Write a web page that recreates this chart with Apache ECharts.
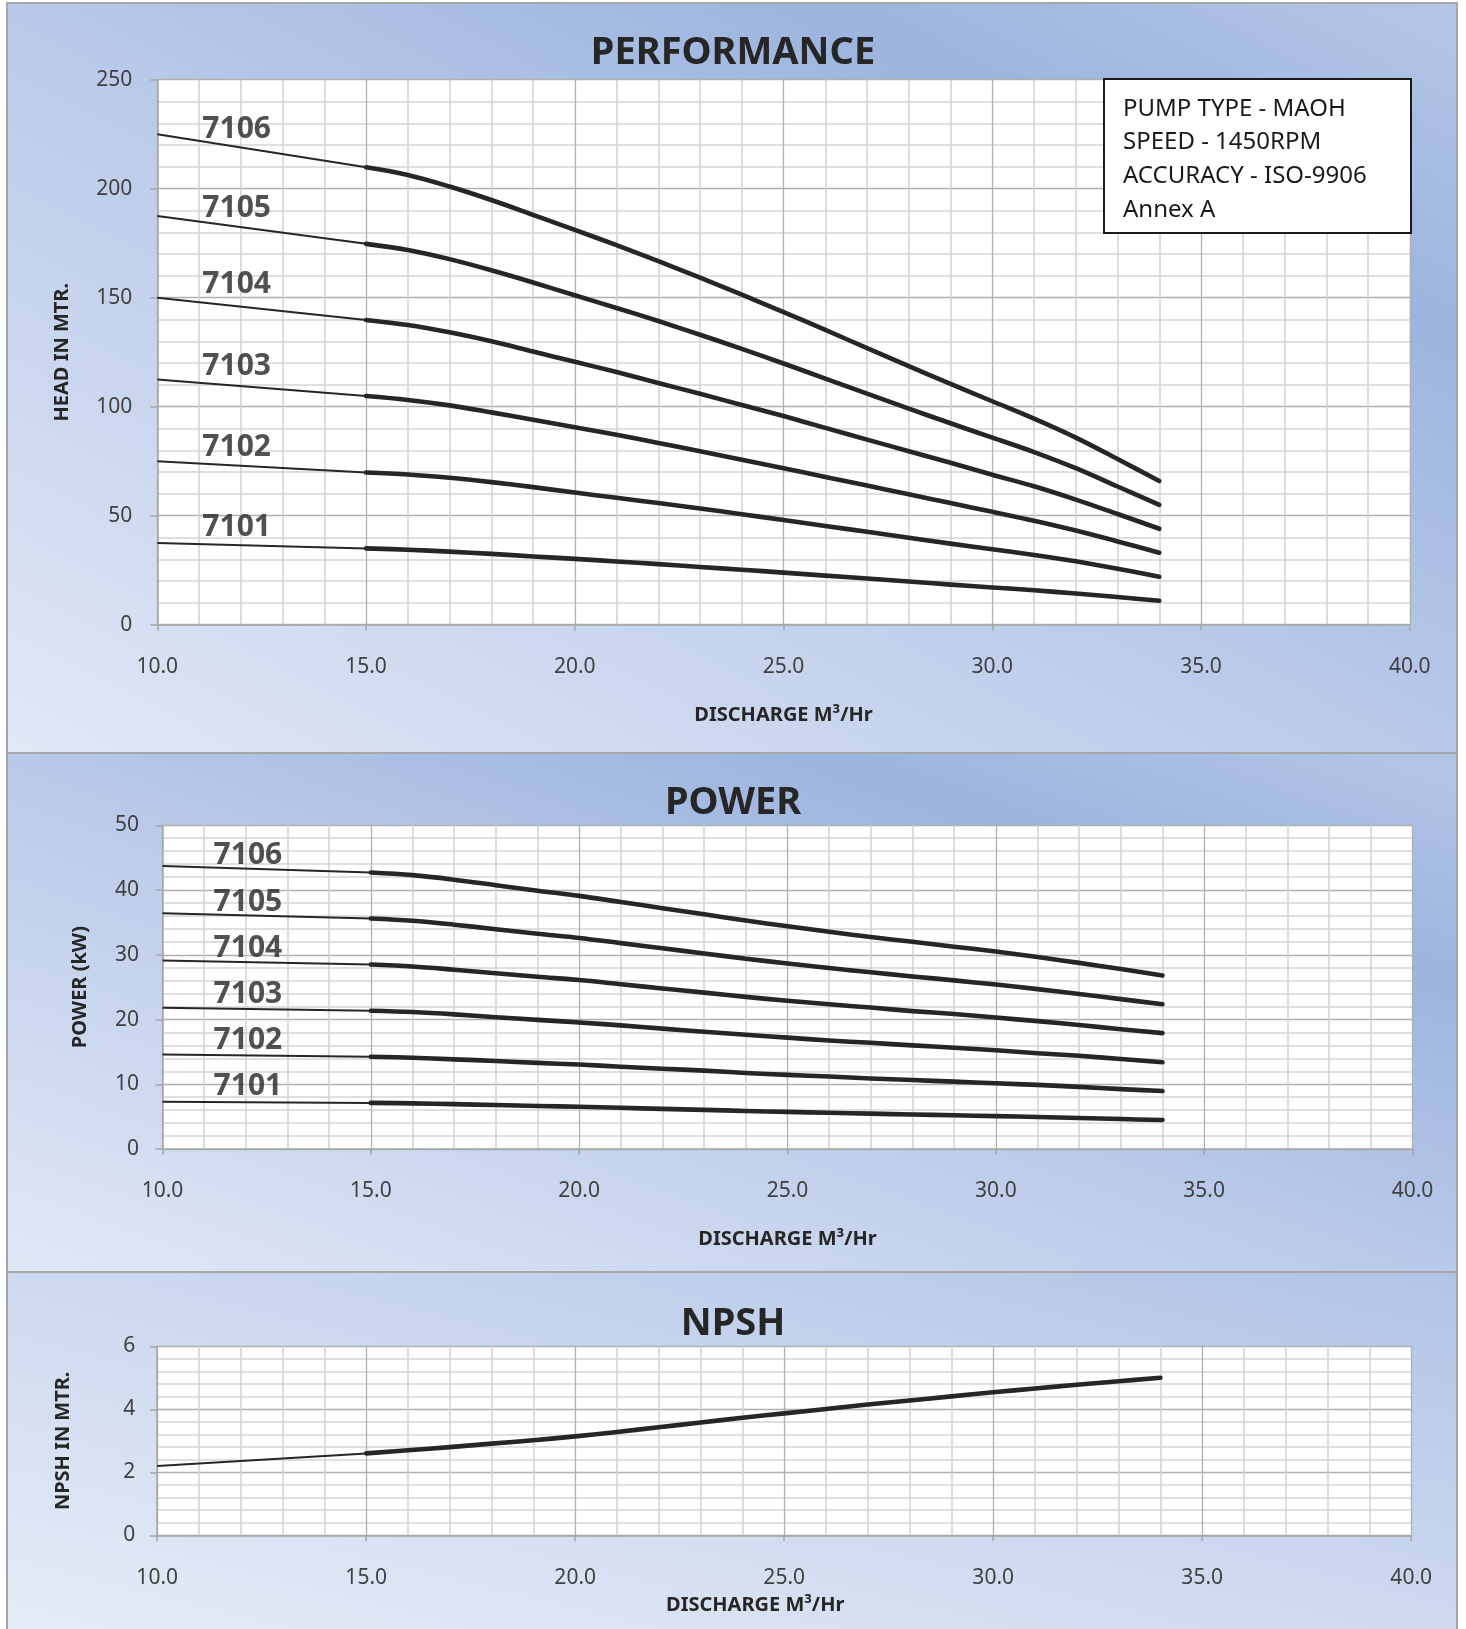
<!DOCTYPE html>
<html>
<head>
<meta charset="utf-8">
<script src="https://cdn.jsdelivr.net/npm/echarts@6/dist/echarts.min.js"></script>
<style>
html,body{margin:0;padding:0;width:1466px;height:1629px;overflow:hidden;background:#ffffff;}
.panel{position:absolute;left:6px;width:1452px;box-sizing:border-box;border:2px solid #a6a6a6;}
#p1{top:2px;height:752px;background:linear-gradient(to top right,#e1e8f6 0%,#b8c9e9 50%,#9cb4de 78%,#b4c6e7 100%);}
#p2{top:752px;height:521px;background:linear-gradient(to top right,#e1e8f6 0%,#b8c9e9 50%,#9cb4de 78%,#b4c6e7 100%);}
#p3{top:1271px;height:362px;background:linear-gradient(to top right,#e5ecf7 0%,#cdd9ef 50%,#b9cae9 85%,#b2c4e6 100%);}
#chart{position:absolute;left:0;top:0;width:1466px;height:1629px;}
</style>
</head>
<body>
<div class="panel" id="p1"></div>
<div class="panel" id="p2"></div>
<div class="panel" id="p3"></div>
<div id="chart"></div>
<script>
// ---------- data ----------
const models = ['7101', '7102', '7103', '7104', '7105', '7106'];
const flowStart = 10;
const flowMain = [15, 16, 17, 18, 19, 20, 21, 22, 23, 24, 25, 26, 27, 28, 29, 30, 31, 32, 33, 34];
const xTicks = [10, 15, 20, 25, 30, 35, 40];

// Head (m): value at 10 m3/h, then values along flowMain
const headStart = [37.5, 75, 112.5, 150, 187.5, 225];
const head7101 = [35.0, 34.4, 33.5, 32.5, 31.3, 30.2, 29.0, 27.8, 26.5, 25.2, 23.9, 22.5, 21.2, 19.8, 18.4, 17.1, 15.8, 14.3, 12.7, 11.0];
const head7102 = [69.8, 68.9, 67.4, 65.4, 63.1, 60.6, 58.2, 55.8, 53.3, 50.7, 48.0, 45.3, 42.6, 39.9, 37.2, 34.6, 32.0, 29.1, 25.7, 22.0];
const head7103 = [104.9, 103.1, 100.6, 97.4, 94.0, 90.6, 87.1, 83.4, 79.6, 75.7, 71.8, 67.8, 63.8, 59.8, 55.8, 51.8, 47.7, 43.2, 38.2, 33.0];
const head7104 = [139.8, 137.5, 134.1, 130.0, 125.3, 120.6, 115.9, 110.9, 105.9, 100.8, 95.7, 90.3, 84.9, 79.6, 74.3, 68.8, 63.5, 57.4, 50.8, 44.0];
const head7105 = [174.7, 171.9, 167.7, 162.6, 157.0, 151.1, 145.3, 139.3, 133.0, 126.5, 119.8, 112.9, 106.0, 99.1, 92.4, 85.8, 79.2, 71.8, 63.4, 55.0];
const head7106 = [209.8, 206.3, 201.0, 194.8, 188.0, 181.1, 174.1, 166.8, 159.2, 151.4, 143.4, 135.2, 126.9, 118.6, 110.5, 102.5, 94.5, 85.8, 76.0, 65.9];

// Power (kW)
const powerStart = [7.3, 14.6, 21.8, 29.1, 36.4, 43.7];
const power7101 = [7.12, 7.05, 6.93, 6.79, 6.65, 6.52, 6.36, 6.2, 6.04, 5.88, 5.73, 5.59, 5.46, 5.33, 5.21, 5.08, 4.94, 4.79, 4.63, 4.47];
const power7102 = [14.25, 14.1, 13.85, 13.6, 13.3, 13.05, 12.7, 12.4, 12.1, 11.75, 11.45, 11.2, 10.9, 10.65, 10.4, 10.15, 9.9, 9.6, 9.25, 8.95];
const power7103 = [21.35, 21.15, 20.8, 20.35, 19.95, 19.55, 19.1, 18.6, 18.1, 17.65, 17.2, 16.75, 16.4, 16.0, 15.65, 15.25, 14.8, 14.4, 13.9, 13.4];
const power7104 = [28.5, 28.2, 27.7, 27.15, 26.6, 26.1, 25.45, 24.8, 24.15, 23.5, 22.9, 22.35, 21.85, 21.3, 20.85, 20.3, 19.75, 19.15, 18.5, 17.9];
const power7105 = [35.6, 35.25, 34.65, 33.95, 33.25, 32.6, 31.8, 31.0, 30.2, 29.4, 28.65, 27.95, 27.3, 26.65, 26.05, 25.4, 24.7, 23.95, 23.15, 22.35];
const power7106 = [42.7, 42.3, 41.6, 40.75, 39.9, 39.1, 38.15, 37.2, 36.25, 35.3, 34.4, 33.55, 32.75, 32.0, 31.25, 30.5, 29.65, 28.75, 27.8, 26.8];

// NPSH (m)
const npshStart = 2.2;
const npshMain = [2.6, 2.7, 2.8, 2.91, 3.02, 3.14, 3.28, 3.43, 3.58, 3.73, 3.87, 4.01, 4.15, 4.28, 4.41, 4.54, 4.66, 4.78, 4.89, 5.0];

// Curve-name annotation anchors (data coordinates)
const headLabelX = 11.9;
const headLabelY = [44.4, 81.5, 118.5, 156.1, 190.8, 227.1];
const powerLabelX = 12.05;
const powerLabelY = [9.65, 16.75, 23.85, 30.95, 38.15, 45.35];

const infoLines = ['PUMP TYPE - MAOH', 'SPEED - 1450RPM', 'ACCURACY - ISO-9906', 'Annex A'];

// ---------- chart ----------
const FONT = '"Noto Sans", "Open Sans", sans-serif';
const INK = '#262626';
const headMain = [head7101, head7102, head7103, head7104, head7105, head7106];
const powerMain = [power7101, power7102, power7103, power7104, power7105, power7106];

function pairs(xs, ys) { return xs.map((x, i) => [x, ys[i]]); }

function xAxis(gi, nameGap, namePad) {
  return {
    type: 'value', gridIndex: gi, min: xTicks[0], max: xTicks[xTicks.length - 1], interval: 5,
    name: 'DISCHARGE M\u00B3/Hr', nameLocation: 'middle', nameGap: nameGap,
    nameTextStyle: { fontFamily: FONT, fontSize: 20, fontWeight: 'bold', color: INK, padding: namePad },
    axisLine: { show: true, onZero: false, lineStyle: { color: '#a6a6a6', width: 1.5 } },
    axisTick: { show: true, length: 6, lineStyle: { color: '#a6a6a6', width: 1.5 } },
    axisLabel: { margin: 32, fontSize: 21, color: '#404040', fontFamily: FONT, formatter: v => v.toFixed(1) },
    splitLine: { show: true, lineStyle: { color: '#b0b0b0', width: 1.3 } },
    minorTick: { show: false, splitNumber: 5 },
    minorSplitLine: { show: true, lineStyle: { color: '#d4d4d4', width: 1.6 } }
  };
}
function yAxis(gi, min, max, interval, name, nameGap, labelMargin) {
  return {
    type: 'value', gridIndex: gi, min: min, max: max, interval: interval,
    name: name, nameLocation: 'middle', nameGap: nameGap,
    nameTextStyle: { fontFamily: FONT, fontSize: 20, fontWeight: 'bold', color: INK },
    axisLine: { show: true, lineStyle: { color: '#a6a6a6', width: 1.5 } },
    axisTick: { show: true, length: 7, lineStyle: { color: '#a6a6a6', width: 1.5 } },
    axisLabel: { margin: labelMargin, fontSize: 21, color: '#404040', fontFamily: FONT },
    splitLine: { show: true, lineStyle: { color: '#b0b0b0', width: 1.3 } },
    minorTick: { show: false, splitNumber: 5 },
    minorSplitLine: { show: true, lineStyle: { color: '#d4d4d4', width: 1.6 } }
  };
}

const series = [];
function addCurve(ai, startVal, mainVals) {
  series.push({
    type: 'line', xAxisIndex: ai, yAxisIndex: ai, showSymbol: false, silent: true, z: 3,
    data: [[flowStart, startVal], [flowMain[0], mainVals[0]]],
    lineStyle: { color: INK, width: 2 }
  });
  series.push({
    type: 'line', xAxisIndex: ai, yAxisIndex: ai, showSymbol: false, silent: true, z: 4,
    smooth: 0.35, data: pairs(flowMain, mainVals),
    lineStyle: { color: INK, width: 4.6, cap: 'round', join: 'round' }
  });
}
models.forEach((m, i) => addCurve(0, headStart[i], headMain[i]));
models.forEach((m, i) => addCurve(1, powerStart[i], powerMain[i]));
addCurve(2, npshStart, npshMain);

function nameLabels(ai, x, ys) {
  return {
    type: 'scatter', xAxisIndex: ai, yAxisIndex: ai, symbolSize: 1, silent: true, z: 6,
    itemStyle: { color: 'rgba(0,0,0,0)' },
    data: models.map((m, i) => ({ name: m, value: [x, ys[i]] })),
    label: { show: true, position: 'inside', formatter: '{b}', fontFamily: FONT, fontSize: 30, fontWeight: 'bold', color: INK }
  };
}
series.push(nameLabels(0, headLabelX, headLabelY));
series.push(nameLabels(1, powerLabelX, powerLabelY));

const titleStyle = { fontFamily: FONT, fontSize: 38, fontWeight: 'bold', color: INK };

const chart = echarts.init(document.getElementById('chart'), null, { renderer: 'canvas' });
chart.setOption({
  animation: false,
  backgroundColor: 'transparent',
  title: [
    { text: 'PERFORMANCE', left: 'center', top: 34, padding: 0, textStyle: titleStyle },
    { text: 'POWER', left: 'center', top: 784, padding: 0, textStyle: titleStyle },
    { text: 'NPSH', left: 'center', top: 1305, padding: 0, textStyle: titleStyle }
  ],
  grid: [
    { left: 157.3, top: 79.7, width: 1252.5, height: 545, show: true, backgroundColor: '#ffffff', borderWidth: 0 },
    { left: 162.5, top: 825.3, width: 1250, height: 323.7, show: true, backgroundColor: '#ffffff', borderWidth: 0 },
    { left: 157.2, top: 1346.3, width: 1254, height: 189, show: true, backgroundColor: '#ffffff', borderWidth: 0 }
  ],
  xAxis: [ xAxis(0, 81, 0), xAxis(1, 80, 0), xAxis(2, 60, [0, 58, 0, 0]) ],
  yAxis: [
    yAxis(0, 0, 250, 50, 'HEAD IN MTR.', 85, 25),
    yAxis(1, 0, 50, 10, 'POWER (kW)', 72, 23.5),
    yAxis(2, 0, 6, 2, 'NPSH IN MTR.', 84, 22)
  ],
  series: series,
  graphic: [
    { type: 'rect', z: 100, zlevel: 0, shape: { x: 1104, y: 79, width: 307, height: 154 }, style: { fill: '#ffffff', stroke: '#1a1a1a', lineWidth: 2 } },
    { type: 'text', z: 101, zlevel: 0, x: 1123, y: 92, style: { text: infoLines.join('\n'), fontFamily: FONT, fontSize: 24, lineHeight: 33.7, fill: '#1a1a1a', verticalAlign: 'top', align: 'left' } }
  ]
});
</script>
</body>
</html>
